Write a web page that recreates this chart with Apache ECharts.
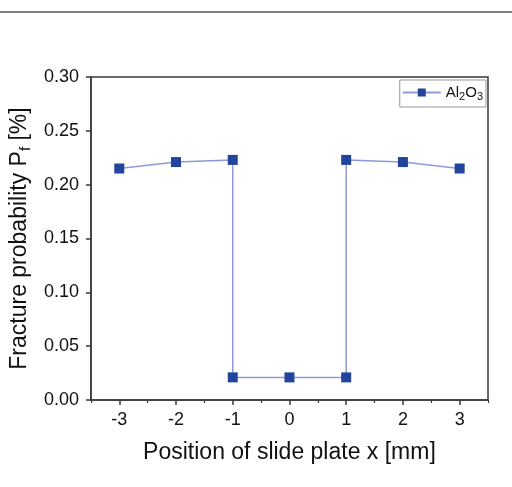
<!DOCTYPE html>
<html>
<head>
<meta charset="utf-8">
<script src="https://cdn.jsdelivr.net/npm/echarts@6/dist/echarts.min.js"></script>
<style>html,body{margin:0;padding:0;background:#fff}#c{width:512px;height:487px}</style>
</head>
<body>
<div id="c"></div>
<script>
const xValues = [-3, -2, -1, -1, 0, 1, 1, 2, 3];
const pfValues = [0.215, 0.221, 0.223, 0.021, 0.021, 0.021, 0.223, 0.221, 0.215];
const xMajorTicks = [-3, -2, -1, 0, 1, 2, 3];
const xMinorTicks = [-3.5, -2.5, -1.5, -0.5, 0.5, 1.5, 2.5, 3.5];
const seriesName = 'Al2O3';

const FONT = '"Liberation Sans", Arial, sans-serif';
const AX = '#3a3a3a';
const chart = echarts.init(document.getElementById('c'), null, {renderer: 'canvas'});
chart.setOption({
  animation: false,
  textStyle: {fontFamily: FONT},
  graphic: [{
    type: 'line', shape: {x1: 0, y1: 12, x2: 512, y2: 12},
    style: {stroke: '#555', lineWidth: 1.5}
  }],
  grid: {left: 89, right: 24, top: 77, bottom: 87, show: true, borderColor: AX, borderWidth: 1.5},
  legend: {
    right: 26, top: 80,
    data: [seriesName],
    itemWidth: 38, itemHeight: 10, itemGap: 4,
    padding: [5, 3, 5, 2],
    borderColor: '#999', borderWidth: 1,
    formatter: () => 'Al{s|2}O{s|3}',
    textStyle: {
      fontFamily: FONT, fontSize: 15, color: '#111',
      rich: {s: {fontSize: 11, padding: [8, 0, 0, 0], fontFamily: FONT, color: '#111'}}
    }
  },
  xAxis: [{
    type: 'value', min: -3.5, max: 3.5,
    name: 'Position of slide plate x [mm]',
    nameLocation: 'middle', nameGap: 41,
    nameTextStyle: {fontSize: 23, color: '#111', fontFamily: FONT},
    axisLine: {onZero: false, lineStyle: {color: AX, width: 1.5}},
    axisTick: {inside: false, length: 5, customValues: xMajorTicks, lineStyle: {color: AX, width: 1.5}},
    axisLabel: {customValues: xMajorTicks, fontSize: 18, color: '#111', margin: 11, fontFamily: FONT},
    splitLine: {show: false}
  }, {
    type: 'value', min: -3.5, max: 3.5, position: 'bottom',
    axisLine: {show: false, onZero: false},
    axisTick: {length: 3, customValues: xMinorTicks, lineStyle: {color: AX, width: 1.2}},
    axisLabel: {show: false},
    splitLine: {show: false}
  }],
  yAxis: {
    type: 'value', min: 0, max: 0.3, interval: 0.05,
    name: 'Fracture probability P{s|f} [%]',
    nameLocation: 'middle', nameGap: 57, nameRotate: 90,
    nameTextStyle: {
      fontSize: 23, color: '#111', fontFamily: FONT,
      rich: {s: {fontSize: 15, padding: [12, 0, 0, 0], fontFamily: FONT, color: '#111'}}
    },
    axisLine: {show: true, onZero: false, lineStyle: {color: AX, width: 1.5}},
    axisTick: {show: true, length: 5, lineStyle: {color: AX, width: 1.5}},
    axisLabel: {fontSize: 18, color: '#111', margin: 12, fontFamily: FONT, formatter: v => v.toFixed(2)},
    splitLine: {show: false}
  },
  series: [{
    name: seriesName, type: 'line',
    data: xValues.map((x, i) => [x, pfValues[i]]),
    symbol: 'rect', symbolSize: 10,
    itemStyle: {color: '#22449c'},
    lineStyle: {color: '#8e9ad6', width: 1.5}
  }]
});
</script>
</body>
</html>
